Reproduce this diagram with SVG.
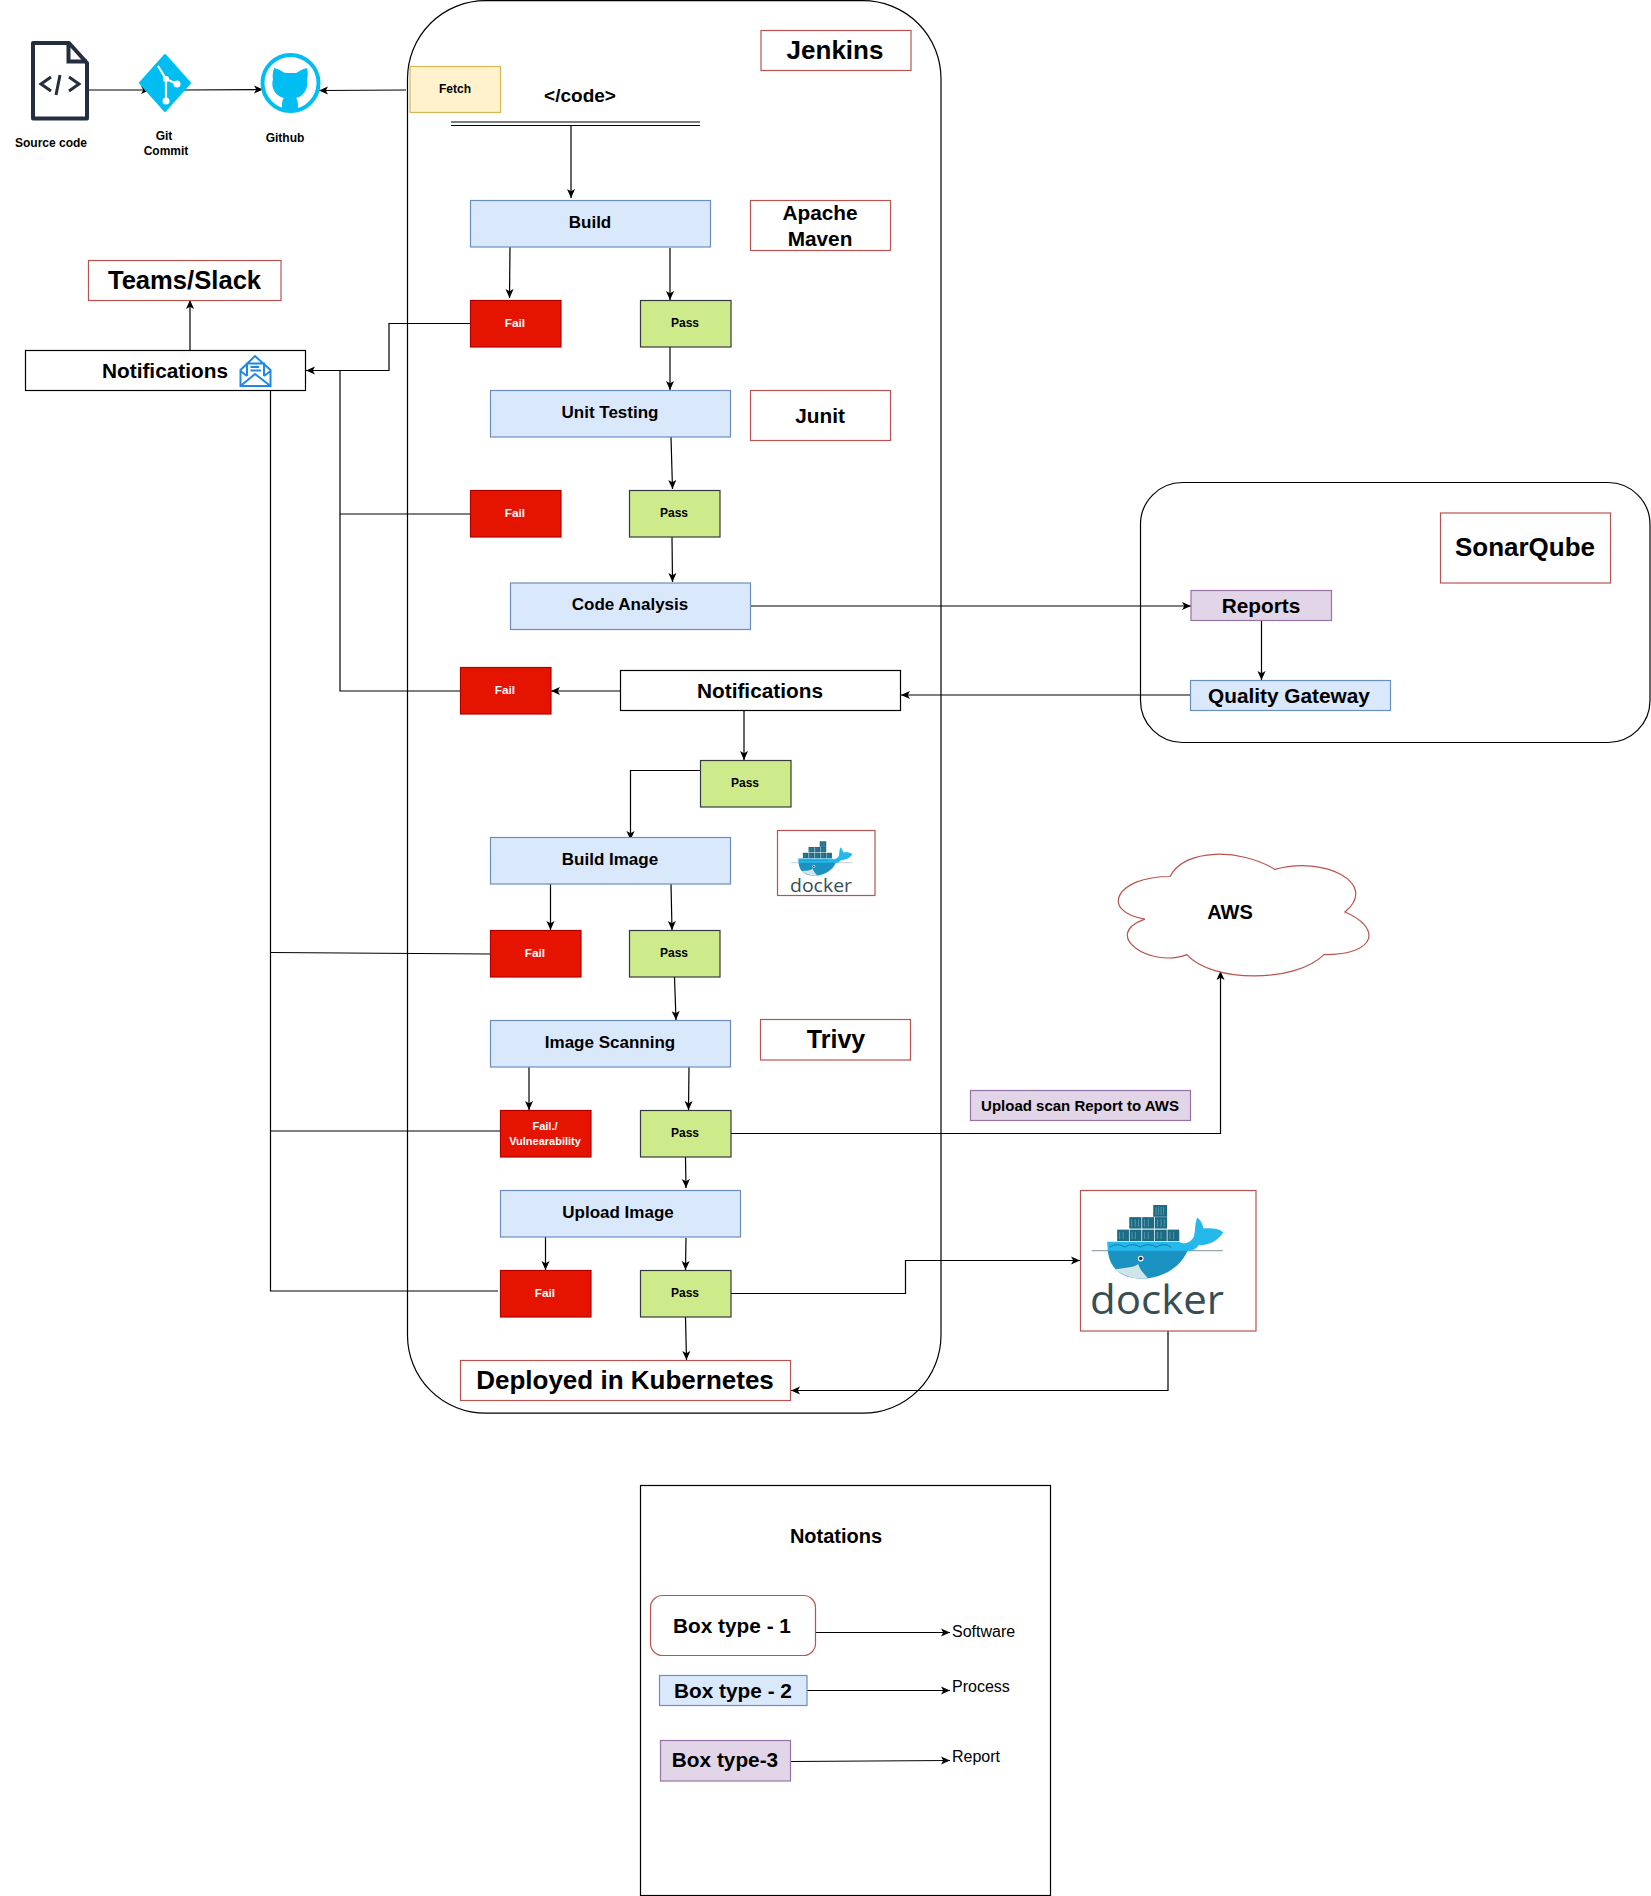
<svg xmlns="http://www.w3.org/2000/svg" xmlns:xlink="http://www.w3.org/1999/xlink" width="1651" height="1896" viewBox="0 0 1651 1896">
<style>
text{font-family:"Liberation Sans",Arial,sans-serif;font-weight:700;fill:#000;text-anchor:middle}
.o{fill:#fff;stroke:#b85450;stroke-width:1.2}
.b{fill:#dae8fc;stroke:#6c8ebf;stroke-width:1.2}
.p{fill:#e1d5e7;stroke:#9673a6;stroke-width:1.2}
.fail{fill:#e51400;stroke:#b20000;stroke-width:1.2}
.pass{fill:#cdeb8b;stroke:#36393d;stroke-width:1.2}
.k{fill:#fff;stroke:#000;stroke-width:1.2}
.t17{font-size:17px}.t12{font-size:12px}.t20{font-size:20.8px}.t26{font-size:26px}
.w{fill:#fff;font-size:11.8px}
.n{font-weight:400;font-size:16px;text-anchor:start}
.c path{fill:none;stroke:#000;stroke-width:1.2}
.c path.a{marker-end:url(#ah)}
</style>
<defs>
<marker id="ah" viewBox="0 0 10 10" refX="10" refY="5" markerUnits="userSpaceOnUse" markerWidth="9" markerHeight="9" orient="auto"><path d="M10 5L0 0.5L2.5 5L0 9.5Z" fill="#000"/></marker>
<g id="whale">
<path d="M0 128H367" stroke="#6d858d" stroke-width="2.5" fill="none"/>
<g fill="#1d6a84">
<rect x="172" y="0" width="39" height="33"/>
<rect x="105" y="34" width="34" height="32"/><rect x="141" y="34" width="34" height="32"/><rect x="177" y="34" width="34" height="32"/>
<rect x="71" y="69" width="33" height="32"/><rect x="106" y="69" width="33" height="32"/><rect x="141" y="69" width="34" height="32"/><rect x="177" y="69" width="33" height="32"/><rect x="212" y="69" width="33" height="32"/>
</g>
<path d="M180 6V28M187 6V28M194 6V28M201 6V28M112 40V61M122 40V61M131 40V61M148 40V61M158 40V61M184 40V61M194 40V61M203 40V61M78 75V96M88 75V96M113 75V96M122 75V96M148 75V96M158 75V96M184 75V96M194 75V96M219 75V96M229 75V96" stroke="#7fb3c4" stroke-width="1.6" fill="none"/>
<path d="M43 103H245C256 112 276 106 285 90C291 75 287 60 295 35C304 41 311 54 313 66C332 64 355 65 368 76C356 99 327 113 300 112C292 124 280 128 268 130H45Z" fill="#24b8eb"/>
<path d="M45 128H268C250 172 200 206 140 206C85 206 50 180 45 128Z" fill="#1a92c2"/>
<path d="M65 180C85 176 120 176 130 165C136 185 150 195 157 205C120 210 85 197 65 180Z" fill="#cfe5ea"/>
<path d="M50 118q22 -14 42 0q22 -14 44 0q22 -14 44 0q22 -14 42 0" stroke="#14749b" stroke-width="2.5" fill="none"/>
<circle cx="137" cy="150" r="8" fill="#fff"/><circle cx="137" cy="150" r="5" fill="#17384a"/>
</g>
</defs>

<g id="jenkins-frame"><rect x="407.5" y="0.7" width="533.5" height="1412.5" rx="78" fill="#fff" stroke="#000" stroke-width="1.2"/></g>
<g id="sonar-frame"><rect x="1140.5" y="482.5" width="509.5" height="260" rx="42" fill="#fff" stroke="#000" stroke-width="1.2"/></g>

<g id="connectors" class="c">
<path class="a" d="M88 90H150"/>
<path class="a" d="M184 90L263 89.5"/>
<path class="a" d="M406 90L319 90.5"/>
<path class="a" d="M571 126V198"/>
<path class="a" d="M510 247L509.5 298"/>
<path class="a" d="M670 248V300"/>
<path class="a" d="M670 347V390"/>
<path class="a" d="M671 437L672.5 489"/>
<path class="a" d="M672 537L672.5 582"/>
<path class="a" d="M751 606H1191"/>
<path class="a" d="M1261.5 621V680"/>
<path class="a" d="M1190 695H901"/>
<path class="a" d="M620 691H551"/>
<path class="a" d="M744 711V760"/>
<path class="a" d="M700 770.500H630.500V840"/>
<path class="a" d="M550.500 884V930"/>
<path class="a" d="M671 884L672 930"/>
<path class="a" d="M674.500 977L676 1020"/>
<path class="a" d="M529 1067V1110"/>
<path class="a" d="M689 1067L688.500 1110"/>
<path class="a" d="M685.500 1157L686 1188"/>
<path class="a" d="M545.500 1237V1270"/>
<path class="a" d="M686 1238L685.500 1270"/>
<path class="a" d="M685.500 1317L686.500 1360"/>
<path class="a" d="M731 1133.500H1220.500V971"/>
<path class="a" d="M731 1293.500H905.500V1260.500H1080"/>
<path class="a" d="M1168 1331V1390.500H791"/>
<path class="a" d="M470 323.500H389V370.500H306"/>
<path class="a" d="M190 350V300"/>
<path d="M340 370.500V691H460"/>
<path d="M340 514H470"/>
<path d="M270.500 390V1291H498"/>
<path d="M270.500 952.500L490 954"/>
<path d="M270.500 1131H500"/>
<path class="a" d="M815 1632.500H950"/>
<path class="a" d="M807 1690.500H950"/>
<path class="a" d="M790 1761.500L950 1760.500"/>
</g>

<g id="source-code">
<path d="M33 43H69L87 63V118.500H33Z" fill="#fff" stroke="#232f3e" stroke-width="4" stroke-linejoin="round"/>
<path d="M68.500 43V61.500H87" fill="none" stroke="#232f3e" stroke-width="4"/>
<path d="M51 77L41 84L51 91M69 77L79 84L69 91M60 75L56 95" fill="none" stroke="#232f3e" stroke-width="3"/>
<text class="t12" x="51" y="147">Source code</text>
</g>
<g id="git-commit">
<path d="M165 55L190 83L165 111L140 83Z" fill="#00bef2" stroke="#00bef2" stroke-width="2" stroke-linejoin="round"/>
<path d="M158 66L166 79V102M166 79L177 84" fill="none" stroke="#fff" stroke-width="2.200"/>
<circle cx="166" cy="79" r="3" fill="#fff"/><circle cx="166" cy="101" r="3.500" fill="#fff"/><circle cx="177" cy="84" r="3.500" fill="#fff"/>
<text class="t12" x="164" y="140">Git</text>
<text class="t12" x="166" y="155">Commit</text>
</g>
<g id="github">
<circle cx="290.500" cy="83" r="28" fill="#fff" stroke="#00bef2" stroke-width="4"/>
<path d="M274 68C279 69 283 72 285 73H296C298 72 302 69 307 68C308 72 308 76 307 79C309 90 302 97 296 98C298 100 298 103 298 109C293 111 287 111 282 109C282 103 282 100 284 98C278 97 270 90 273 79C272 76 273 72 274 68Z" fill="#00bef2"/>
<text class="t12" x="285" y="142">Github</text>
</g>
<g id="fetch"><rect x="410" y="66.500" width="90.500" height="46" fill="#fff2cc" stroke="#d6b656" stroke-width="1.200"/><text class="t12" x="455" y="93">Fetch</text></g>
<g id="code">
<text x="580" y="102" font-size="19">&lt;/code&gt;</text>
<path d="M451 122H700M451 125.500H700" stroke="#000" stroke-width="1.200" fill="none"/>
</g>
<g id="jenkins"><rect class="o" x="761" y="30.500" width="150" height="40"/><text class="t26" x="835" y="59">Jenkins</text></g>
<g id="build"><rect class="b" x="470.500" y="200.500" width="240" height="46.500"/><text class="t17" x="590" y="228">Build</text></g>
<g id="apache-maven"><rect class="o" x="750.500" y="200.500" width="140" height="50"/><text class="t20" x="820" y="220">Apache</text><text class="t20" x="820" y="246">Maven</text></g>
<g id="fail-1"><rect class="fail" x="470.500" y="300.500" width="90.500" height="46.500"/><text class="w" x="515" y="327">Fail</text></g>
<g id="pass-1"><rect class="pass" x="640.500" y="300.500" width="90.500" height="46.500"/><text class="t12" x="685" y="327">Pass</text></g>
<g id="teams-slack"><rect class="o" x="88.500" y="260.500" width="192.500" height="40"/><text x="184.500" y="289" font-size="25.600">Teams/Slack</text></g>
<g id="notifications-1"><rect class="k" x="25.500" y="350.500" width="280" height="40"/><text class="t20" x="165" y="378">Notifications</text>
<path d="M240.500 386V370L255 356L270.500 370V386ZM240.500 386L255 374L270.500 386M240.500 371L247 376M270.500 371L264 376M247 376V363.500H264V376M250.500 367H259M250.500 370.500H261" fill="none" stroke="#1e88e5" stroke-width="2"/></g>
<g id="unit-testing"><rect class="b" x="490.500" y="390.500" width="240" height="46.500"/><text class="t17" x="610" y="418">Unit Testing</text></g>
<g id="junit"><rect class="o" x="750.500" y="390.500" width="140" height="50"/><text class="t20" x="820" y="423">Junit</text></g>
<g id="fail-2"><rect class="fail" x="470.500" y="490.500" width="90.500" height="46.500"/><text class="w" x="515" y="517">Fail</text></g>
<g id="pass-2"><rect class="pass" x="629.500" y="490.500" width="90.500" height="46.500"/><text class="t12" x="674" y="517">Pass</text></g>
<g id="code-analysis"><rect class="b" x="510.500" y="583" width="240" height="46.500"/><text class="t17" x="630" y="610">Code Analysis</text></g>
<g id="sonarqube"><rect class="o" x="1440.500" y="513" width="170" height="70"/><text class="t26" x="1525" y="556">SonarQube</text></g>
<g id="reports"><rect class="p" x="1191" y="590.500" width="140.500" height="30"/><text class="t20" x="1261" y="613">Reports</text></g>
<g id="quality-gateway"><rect class="b" x="1190.500" y="680.500" width="200" height="30"/><text class="t20" x="1289" y="703">Quality Gateway</text></g>
<g id="notifications-2"><rect class="k" x="620.500" y="670.500" width="280" height="40"/><text class="t20" x="760" y="698">Notifications</text></g>
<g id="fail-3"><rect class="fail" x="460.500" y="667.500" width="90.500" height="46.500"/><text class="w" x="505" y="694">Fail</text></g>
<g id="pass-3"><rect class="pass" x="700.500" y="760.500" width="90.500" height="46.500"/><text class="t12" x="745" y="787">Pass</text></g>
<g id="build-image"><rect class="b" x="490.500" y="837.500" width="240" height="46.500"/><text class="t17" x="610" y="865">Build Image</text></g>
<g id="docker-small"><rect class="o" x="777.500" y="830.500" width="97.500" height="65"/>
<use xlink:href="#whale" href="#whale" transform="translate(791 841.300) scale(0.167)"/>
<text x="821" y="892" font-size="19" textLength="62" lengthAdjust="spacingAndGlyphs" style="font-family:'Open Sans',sans-serif;font-weight:400;fill:#394d54">docker</text></g>
<g id="fail-4"><rect class="fail" x="490.500" y="930.500" width="90.500" height="46.500"/><text class="w" x="535" y="957">Fail</text></g>
<g id="pass-4"><rect class="pass" x="629.500" y="930.500" width="90.500" height="46.500"/><text class="t12" x="674" y="957">Pass</text></g>
<g id="image-scanning"><rect class="b" x="490.500" y="1020.500" width="240" height="46.500"/><text class="t17" x="610" y="1048">Image Scanning</text></g>
<g id="trivy"><rect class="o" x="760.500" y="1019.500" width="150" height="40.500"/><text x="836" y="1048" font-size="25">Trivy</text></g>
<g id="aws"><path d="M30 20C6 20 0 40 19.200 44C0 52.800 21.600 72 37.200 64C48 80 84 80 96 64C120 64 120 48 105 40C120 24 96 8 75 16C60 4 36 4 30 20Z" transform="translate(1100.200 841) scale(2.330 1.775)" fill="#fff" stroke="#b85450" stroke-width="1.200" vector-effect="non-scaling-stroke"/><text x="1230" y="919" font-size="20">AWS</text></g>
<g id="upload-scan-report"><rect class="p" x="970.500" y="1090.500" width="220" height="30"/><text x="1080" y="1111" font-size="15">Upload scan Report to AWS</text></g>
<g id="fail-vulnerability"><rect class="fail" x="500.500" y="1110.500" width="90.500" height="46.500"/><text x="545" y="1130" font-size="11" style="fill:#fff">Fail./</text><text x="545" y="1145" font-size="11" style="fill:#fff">Vulnearability</text></g>
<g id="pass-5"><rect class="pass" x="640.500" y="1110.500" width="90.500" height="46.500"/><text class="t12" x="685" y="1137">Pass</text></g>
<g id="upload-image"><rect class="b" x="500.500" y="1190.500" width="240" height="46.500"/><text class="t17" x="618" y="1218">Upload Image</text></g>
<g id="fail-5"><rect class="fail" x="500.500" y="1270.500" width="90.500" height="46.500"/><text class="w" x="545" y="1297">Fail</text></g>
<g id="pass-6"><rect class="pass" x="640.500" y="1270.500" width="90.500" height="46.500"/><text class="t12" x="685" y="1297">Pass</text></g>
<g id="docker-large"><rect class="o" x="1080.500" y="1190.500" width="175.500" height="140.500"/>
<use xlink:href="#whale" href="#whale" transform="translate(1091.800 1205) scale(0.357)"/>
<text x="1157" y="1314" font-size="41" textLength="134" lengthAdjust="spacingAndGlyphs" style="font-family:'Open Sans',sans-serif;font-weight:400;fill:#394d54">docker</text></g>
<g id="deployed"><rect class="o" x="460.500" y="1360.500" width="330" height="40"/><text x="625" y="1389" font-size="26">Deployed in Kubernetes</text></g>

<g id="notations">
<rect x="640.500" y="1485.500" width="410" height="410" fill="none" stroke="#000" stroke-width="1.200"/>
<text x="836" y="1543" font-size="20">Notations</text>
</g>
<g id="box-type-1"><rect class="o" x="650.500" y="1595.500" width="165" height="60" rx="12"/><text x="732" y="1633" font-size="20.800">Box type - 1</text></g>
<g id="box-type-2"><rect class="b" x="659.500" y="1675.500" width="147.500" height="30"/><text x="733" y="1698" font-size="20.800">Box type - 2</text></g>
<g id="box-type-3"><rect class="p" x="660.500" y="1740.500" width="130" height="40.500"/><text x="725" y="1767" font-size="20.800">Box type-3</text></g>
<g id="notation-labels">
<text class="n" x="952" y="1637">Software</text>
<text class="n" x="952" y="1692">Process</text>
<text class="n" x="952" y="1762">Report</text>
</g>
</svg>
